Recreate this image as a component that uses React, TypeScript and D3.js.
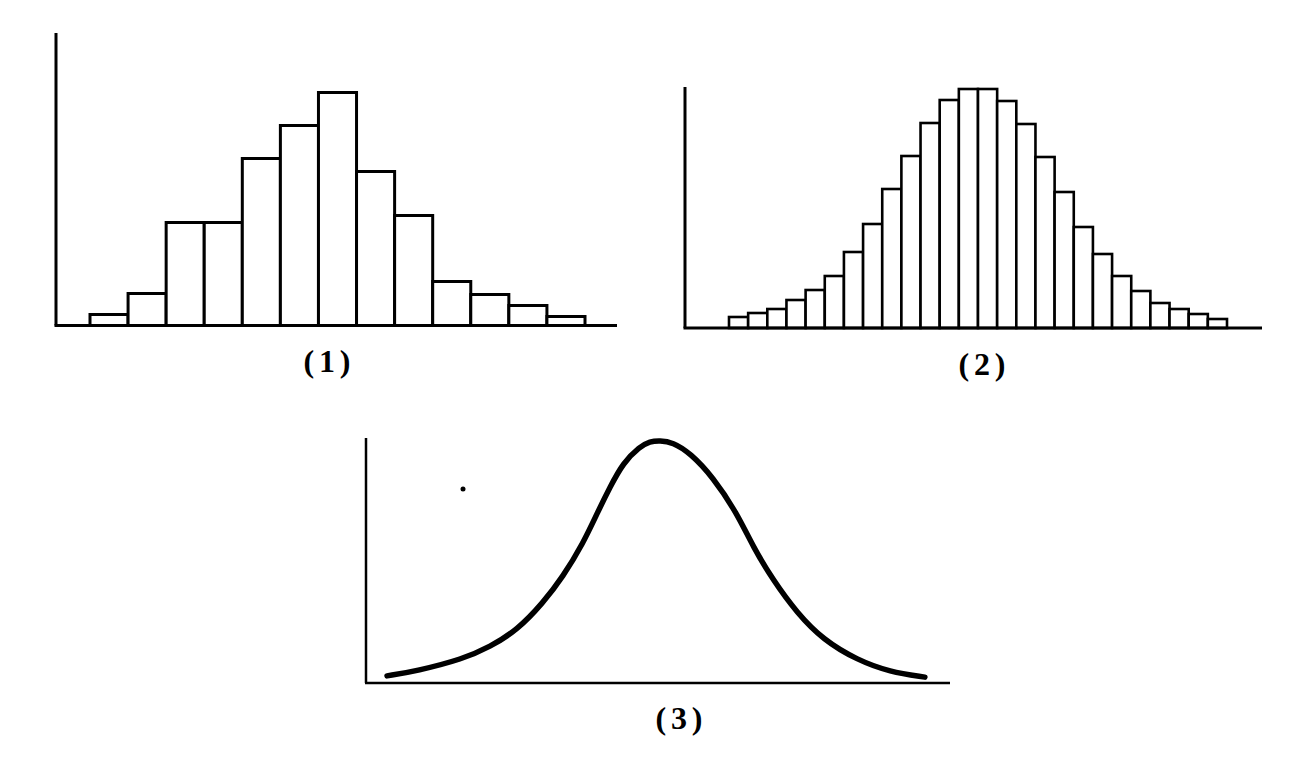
import React from "react";
import * as d3 from "d3";

// Histogram (1): 13 class intervals, bar heights (relative frequency units)
const hist1Values = [11, 32, 103, 103, 167, 200, 233, 154, 110, 44, 31, 20, 9];
// Histogram (2): 26 narrower class intervals
const hist2Values = [
  11, 15, 19, 28, 38, 52, 76, 104, 139, 172, 205, 228, 239,
  239, 227, 204, 171, 136, 101, 74, 52, 37, 25, 19, 14, 9,
];
// Curve (3): limiting density curve, sampled points (x, y in 0–100 units)
const curveX = [3.6, 8.7, 16.6, 21.2, 25.9, 30.3, 33.7, 37.2, 39.6, 41.8, 44.0, 46.9, 48.6, 50.3, 52.5, 55.5, 59.4, 63.5, 66.3, 69.7, 73.8, 78.3, 84.1, 89.7, 95.7];
const curveY = [2.9, 4.9, 9.8, 14.7, 21.6, 32.7, 43.3, 57.1, 69.4, 80.0, 89.8, 96.5, 98.6, 99.0, 98.3, 93.9, 84.1, 69.4, 55.5, 42.0, 28.6, 17.6, 9.4, 4.5, 2.4];
const panelLabels = ["(1)", "(2)", "(3)"];

const W = 1294;
const H = 762;

const labelFont = "'Liberation Serif', 'Times New Roman', serif";

function Label({ x, y, text }: any) {
  return (
    <text
      x={x}
      y={y}
      textAnchor="middle"
      fontFamily={labelFont}
      fontSize={32}
      fontWeight="bold"
      textLength={47}
      lengthAdjust="spacing"
      fill="#000"
    >
      {text}
    </text>
  );
}

function Histogram({ values, left, top, bottom, right, barStart, barEnd, yMax, stroke, label, labelX, labelY }: any) {
  const x = d3.scaleLinear().domain([0, values.length]).range([barStart, barEnd]);
  const y = d3.scaleLinear().domain([0, yMax]).range([bottom, top]);
  return (
    <g>
      {values.map((v: number, i: number) => (
        <rect
          key={i}
          x={x(i)}
          y={y(v)}
          width={x(i + 1) - x(i)}
          height={y(0) - y(v)}
          fill="#fff"
          stroke="#000"
          strokeWidth={stroke}
        />
      ))}
      <line x1={left} y1={top} x2={left} y2={bottom} stroke="#000" strokeWidth={3} />
      <line x1={left - 1.5} y1={bottom} x2={right} y2={bottom} stroke="#000" strokeWidth={3} />
      <Label x={labelX} y={labelY} text={label} />
    </g>
  );
}

function Curve() {
  const left = 366, right = 950, top = 438, bottom = 683;
  const x = d3.scaleLinear().domain([0, 100]).range([left, right]);
  const y = d3.scaleLinear().domain([0, 100]).range([bottom, top]);
  const pts: [number, number][] = curveX.map((v, i) => [v, curveY[i]]);
  const line = d3
    .line<[number, number]>()
    .x((d) => x(d[0]))
    .y((d) => y(d[1]))
    .curve(d3.curveBasis);
  return (
    <g>
      <line x1={left} y1={top} x2={left} y2={bottom} stroke="#000" strokeWidth={2.5} />
      <line x1={left - 1} y1={bottom} x2={right} y2={bottom} stroke="#000" strokeWidth={2.5} />
      <path d={line(pts) || ""} fill="none" stroke="#000" strokeWidth={5.5} strokeLinecap="round" />
      <Label x={679} y={729} text={panelLabels[2]} />
      <circle cx={463} cy={489} r={2.5} fill="#000" />
    </g>
  );
}

export default function App() {
  return (
    <svg
      width={W}
      height={H}
      viewBox={`0 0 ${W} ${H}`}
      style={{ position: "absolute", left: 0, top: 0, background: "#fff" }}
    >
      <rect x={0} y={0} width={W} height={H} fill="#fff" />
      <Histogram
        values={hist1Values}
        left={56}
        top={33}
        bottom={325.5}
        right={617}
        barStart={90}
        barEnd={585}
        yMax={292.5}
        stroke={3}
        label={panelLabels[0]}
        labelX={327}
        labelY={372}
      />
      <Histogram
        values={hist2Values}
        left={685}
        top={87}
        bottom={328}
        right={1262}
        barStart={729}
        barEnd={1227}
        yMax={241}
        stroke={2.6}
        label={panelLabels[1]}
        labelX={982}
        labelY={375}
      />
      <Curve />
    </svg>
  );
}
